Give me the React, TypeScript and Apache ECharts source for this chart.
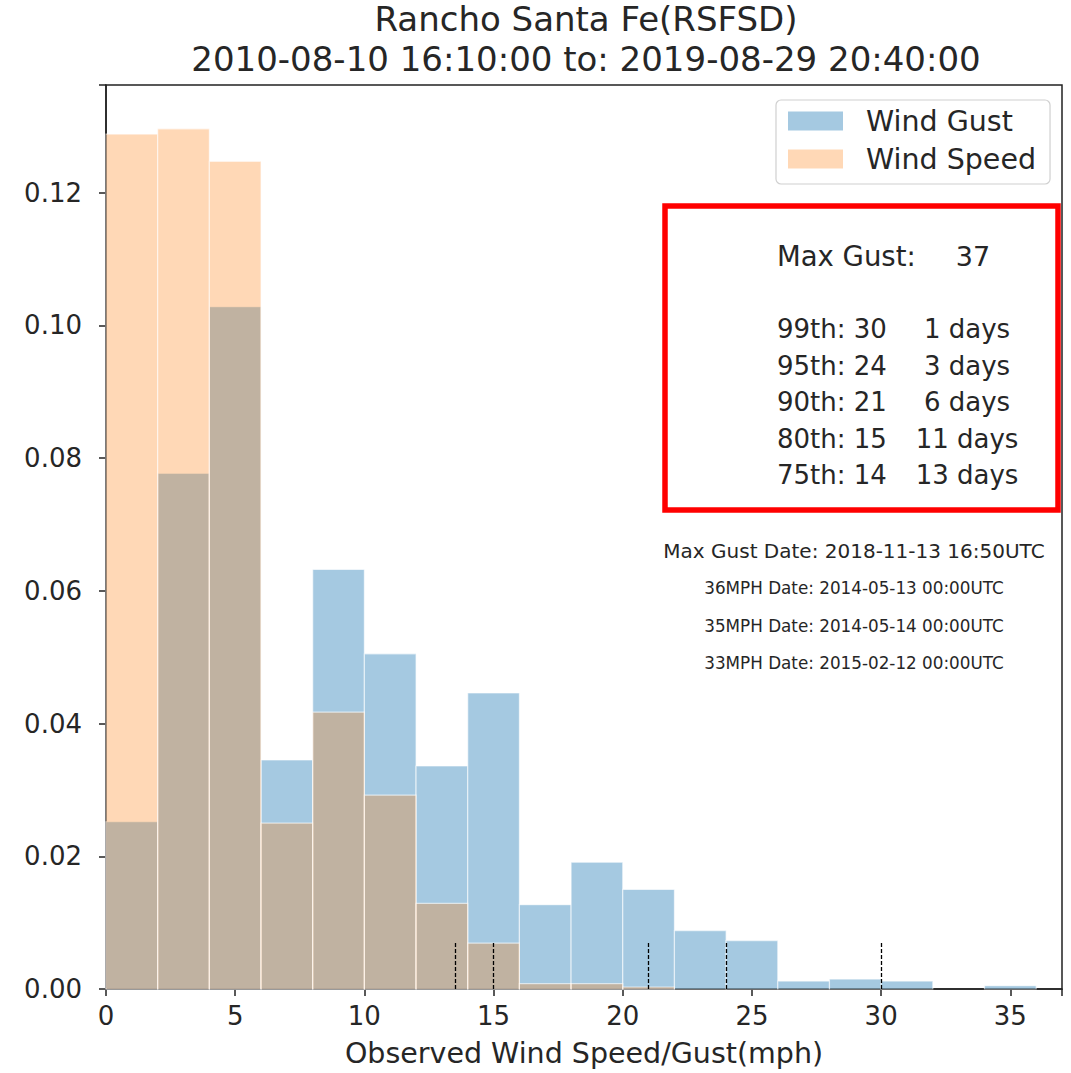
import React, { useEffect, useRef } from "react";
import * as echarts from "echarts";

const titleLine1 = "Rancho Santa Fe(RSFSD)";
const titleLine2 = "2010-08-10 16:10:00 to: 2019-08-29 20:40:00";
const xAxisName = "Observed Wind Speed/Gust(mph)";

const binEdges = [0, 2, 4, 6, 8, 10, 12, 14, 16, 18, 20, 22, 24, 26, 28, 30, 32, 34, 36];
const windGust = [0.0252, 0.0777, 0.1028, 0.0345, 0.0632, 0.0505, 0.0336, 0.0446, 0.0127, 0.0191, 0.015, 0.0088, 0.0073, 0.0012, 0.0015, 0.0012, 0.0, 0.0005];
const windSpeed = [0.1288, 0.1296, 0.1247, 0.025, 0.0417, 0.0292, 0.0129, 0.0069, 0.0008, 0.0008, 0.0003, 0, 0, 0, 0, 0, 0, 0];

const percentileLines = [13.5, 15, 21, 24, 30];
const percentileLineTop = 0.0072;

const maxGust = 37;
const pctNames = ["99th", "95th", "90th", "80th", "75th"];
const pctValues = [30, 24, 21, 15, 14];
const pctDays = [1, 3, 6, 11, 13];

const dateLines = [
  "Max Gust Date: 2018-11-13 16:50UTC",
  "36MPH Date: 2014-05-13 00:00UTC",
  "35MPH Date: 2014-05-14 00:00UTC",
  "33MPH Date: 2015-02-12 00:00UTC",
];

const FONT = "DejaVu Sans";
const TXT = "#262626";
const GUST_COLOR = "rgba(31,119,180,0.4)";
const SPEED_COLOR = "rgba(255,127,14,0.3)";

function histData(values: number[]) {
  return values.map((v, i) => [binEdges[i], binEdges[i + 1], v]);
}

function makeRender(color: string) {
  return (params: any, api: any) => {
    const x0 = api.value(0);
    const x1 = api.value(1);
    const v = api.value(2);
    if (!v) return null;
    const p0 = api.coord([x0, v]);
    const p1 = api.coord([x1, 0]);
    return {
      type: "rect",
      shape: { x: p0[0], y: p0[1], width: p1[0] - p0[0], height: p1[1] - p0[1] },
      style: { fill: color, stroke: "rgba(255,255,255,0.6)", lineWidth: 1.2 },
    };
  };
}

export default function App() {
  const ref = useRef<HTMLDivElement>(null);
  useEffect(() => {
    if (!ref.current) return;
    const el = ref.current;
    const chart = echarts.init(el, null, { renderer: "svg", width: 1071, height: 1073 });
    const graphics: any[] = [
      { type: "text", x: 586, y: 18.5, style: { text: titleLine1, font: `34px '${FONT}'`, fill: TXT, textAlign: "center", textVerticalAlign: "middle" } },
      { type: "text", x: 586, y: 58.5, style: { text: titleLine2, font: `34px '${FONT}'`, fill: TXT, textAlign: "center", textVerticalAlign: "middle" } },
      { type: "rect", shape: { x: 665, y: 206, width: 393, height: 304 }, style: { fill: "#fff", stroke: "#ff0000", lineWidth: 5.5 }, z: 10 },
      { type: "text", x: 777, y: 256, z: 11, style: { text: "Max Gust:", font: `27.5px '${FONT}'`, fill: TXT, textAlign: "left", textVerticalAlign: "middle" } },
      { type: "text", x: 973, y: 256, z: 11, style: { text: String(maxGust), font: `27px '${FONT}'`, fill: TXT, textAlign: "center", textVerticalAlign: "middle" } },
    ];
    pctNames.forEach((n, i) => {
      const y = 329 + i * 36.6;
      graphics.push({ type: "text", x: 777, y, z: 11, style: { text: `${n}: ${pctValues[i]}`, font: `26px '${FONT}'`, fill: TXT, textAlign: "left", textVerticalAlign: "middle" } });
      graphics.push({ type: "text", x: 967, y, z: 11, style: { text: `${pctDays[i]} days`, font: `26px '${FONT}'`, fill: TXT, textAlign: "center", textVerticalAlign: "middle" } });
    });
    dateLines.forEach((t, i) => {
      graphics.push({ type: "text", x: 854, y: 551 + i * 37.3, z: 11, style: { text: t, font: `${i === 0 ? 20 : 16.8}px '${FONT}'`, fill: TXT, textAlign: "center", textVerticalAlign: "middle" } });
    });

    chart.setOption({
      animation: false,
      backgroundColor: "#fff",
      textStyle: { fontFamily: FONT },
      grid: { left: 106, right: 9, top: 85, bottom: 75, show: true, borderColor: "#222", borderWidth: 1.5, backgroundColor: "transparent" },
      legend: {
        orient: "vertical",
        left: 776,
        top: 100,
        padding: [6, 14, 10, 12],
        itemWidth: 55,
        itemHeight: 19,
        itemGap: 8,
        icon: "rect",
        backgroundColor: "#fff",
        borderColor: "#d0d0d0",
        borderWidth: 1.2,
        borderRadius: 5,
        textStyle: { fontSize: 28.5, lineHeight: 30, color: TXT, fontFamily: FONT, padding: [0, 0, 0, 18] },
        itemStyle: { borderWidth: 0 },
        data: ["Wind Gust", "Wind Speed"],
      },
      xAxis: {
        type: "value",
        min: 0,
        max: 37,
        interval: 5,
        name: xAxisName,
        nameLocation: "middle",
        nameGap: 50,
        nameTextStyle: { fontSize: 28.5, color: TXT, fontFamily: FONT },
        axisLine: { show: true, lineStyle: { color: "#222", width: 1.5 } },
        axisTick: { show: true, length: 7, lineStyle: { color: "#222", width: 1.5 } },
        axisLabel: {
          fontSize: 26,
          color: TXT,
          fontFamily: FONT,
          margin: 14,
          formatter: (v: number) => (Math.abs(v % 5) < 1e-9 ? String(v) : ""),
        },
        splitLine: { show: false },
      },
      yAxis: {
        type: "value",
        min: 0,
        max: 0.1362,
        interval: 0.02,
        axisLine: { show: true, lineStyle: { color: "#222", width: 1.5 } },
        axisTick: { show: true, length: 7, lineStyle: { color: "#222", width: 1.5 } },
        axisLabel: {
          fontSize: 26,
          color: TXT,
          fontFamily: FONT,
          margin: 24,
          formatter: (v: number) => {
            const k = v / 0.02;
            return Math.abs(k - Math.round(k)) < 1e-6 ? v.toFixed(2) : "";
          },
        },
        splitLine: { show: false },
      },
      series: [
        {
          name: "Wind Gust",
          type: "custom",
          renderItem: makeRender(GUST_COLOR),
          itemStyle: { color: GUST_COLOR },
          encode: { x: [0, 1], y: 2 },
          data: histData(windGust),
          z: 2,
        },
        {
          name: "Wind Speed",
          type: "custom",
          renderItem: makeRender(SPEED_COLOR),
          itemStyle: { color: SPEED_COLOR },
          encode: { x: [0, 1], y: 2 },
          data: histData(windSpeed),
          z: 3,
        },
        {
          name: "Percentiles",
          type: "line",
          data: [],
          z: 4,
          markLine: {
            silent: true,
            symbol: "none",
            label: { show: false },
            lineStyle: { color: "#000", width: 1.3, type: [4, 2] },
            data: percentileLines.map((p) => [{ coord: [p, 0] }, { coord: [p, percentileLineTop] }]),
          },
        },
      ],
      graphic: graphics,
    });
    return () => chart.dispose();
  }, []);
  return <div ref={ref} style={{ position: "absolute", left: 0, top: 0, width: 1071, height: 1073 }} />;
}
